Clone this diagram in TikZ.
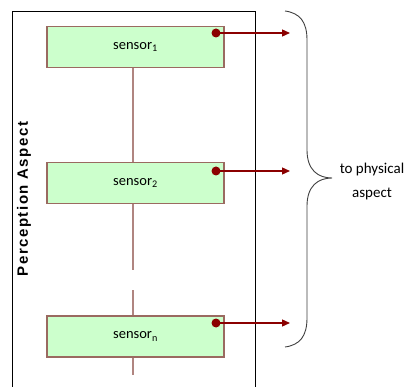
\documentclass[tikz,border=0pt]{standalone}
\usepackage{fontspec}
\setmainfont{Carlito}
\newfontfamily\labelfont[LetterSpace=10]{Liberation Sans}
\usetikzlibrary{arrows.meta}
\definecolor{boxfill}{HTML}{CCFFCC}
\definecolor{boxedge}{HTML}{9A6A60}
\definecolor{linkline}{HTML}{B08580}
\definecolor{arrowred}{HTML}{8B0000}
\tikzset{
  x=1pt, y=-1pt,
  sensorbox/.style={draw=boxedge, line width=1.2pt, fill=boxfill,
    minimum width=177pt, minimum height=41pt, inner sep=0pt, font=\fontsize{14.5}{17}\selectfont},
  link/.style={draw=linkline, line width=1.2pt},
  outarrow/.style={draw=arrowred, line width=1.3pt, -{Triangle[length=8pt,width=7pt]}},
  port/.style={circle, fill=arrowred, inner sep=0pt, minimum size=9pt}
}
\begin{document}
\begin{tikzpicture}
\useasboundingbox (0,0) rectangle (412,387);
\fill[white] (0,0) rectangle (412,387);

% frame of the perception aspect (open at the bottom)
\draw[line width=0.9pt] (12,387) -- (12,11) -- (255,11) -- (255,387);
\node[rotate=90, font=\labelfont\bfseries\fontsize{15}{17}\selectfont] (title) at (24,199) {Perception Aspect};

% sensors
\node[sensorbox] (s1) at (135.5,47) {sensor\textsubscript{1}};
\node[sensorbox] (s2) at (135.5,183) {sensor\textsubscript{2}};
\node[sensorbox] (sn) at (135.5,336.5) {sensor\textsubscript{n}};

% vertical link between the sensors
\coordinate (gapA) at (133,270);
\coordinate (gapB) at (133,290);
\coordinate (tail) at (133,375);
\draw[link] (s1.south -| 133,0) -- (s2.north -| 133,0);
\draw[link] (s2.south -| 133,0) -- (gapA);
\draw[link] (gapB) -- (sn.north -| 133,0);
\draw[link] (sn.south -| 133,0) -- (tail);

% output ports and arrows
\node[port] (p1) at (216,33) {};
\node[port] (p2) at (216,171) {};
\node[port] (pn) at (216,323) {};
\coordinate (t1) at (290,33);
\coordinate (t2) at (290,171);
\coordinate (tn) at (290,323);
\draw[outarrow] (p1.center) -- (t1);
\draw[outarrow] (p2.center) -- (t2);
\draw[outarrow] (pn.center) -- (tn);

% brace gathering the outputs
\draw[line width=0.9pt, black!75] (285,11)
  .. controls (300,13) and (307,22) .. (307,40)
  -- (307,150)
  .. controls (307,170) and (318,178) .. (332,178)
  .. controls (318,178) and (307,186) .. (307,206)
  -- (307,318)
  .. controls (307,336) and (300,345) .. (285,347);

\node[font=\fontsize{15}{24}\selectfont, align=center] (dest) at (372,182) {to physical\\aspect};
\end{tikzpicture}
\end{document}
